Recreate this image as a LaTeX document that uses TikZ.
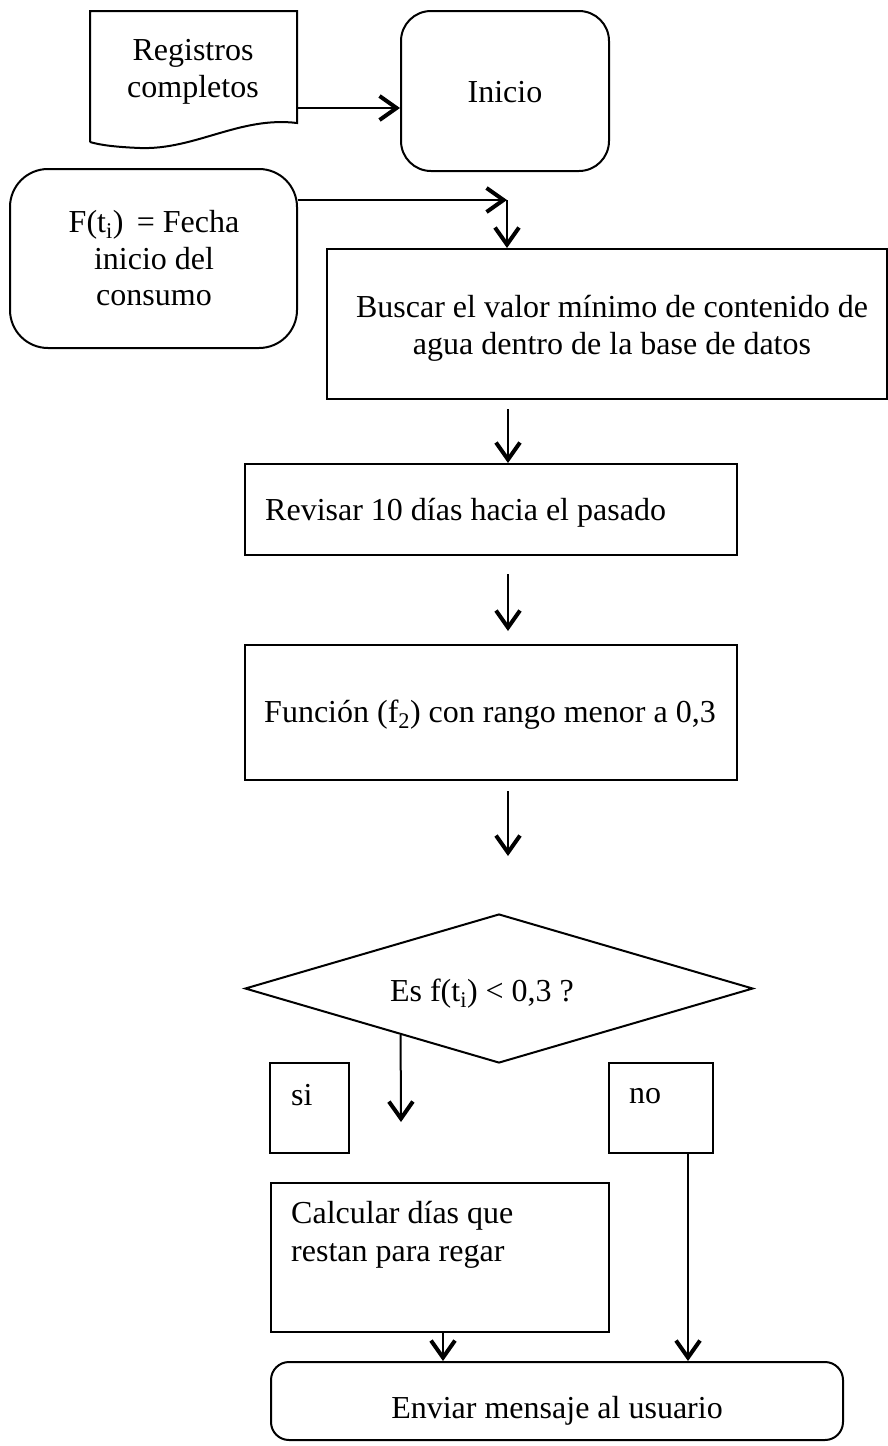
\documentclass[tikz,border=0pt]{standalone}
\usepackage{fontspec}
\setmainfont{Liberation Serif}
\usetikzlibrary{arrows.meta,shapes.geometric,calc}
\begin{document}
\begin{tikzpicture}[x=1pt,y=-1pt,
  txt/.style={inner sep=0pt,font=\fontsize{32}{38}\selectfont},
  box/.style={draw,line width=2pt,inner sep=0pt,rectangle},
  arr/.style={line width=2pt,-{Straight Barb[length=17pt,width=24pt,line width=4pt]}},
]
\useasboundingbox (0,0) rectangle (888,1446);

% document shape
\node[inner sep=0pt,minimum width=207pt,minimum height=131pt] (doc) at (193.5,76.5) {};
\draw[line width=2pt,line join=miter] (90,142) -- (90,11) -- (297,11) -- (297,123)
  .. controls (240,116) and (195,150) .. (140,148)
  .. controls (115,147) and (100,145) .. (90,142);
\node[txt,anchor=base] (t1a) at (193,60) {Registros};
\node[txt,anchor=base] (t1b) at (193,97) {completos};

% Inicio
\node[box,rounded corners=30pt,minimum width=208pt,minimum height=160pt] (inicio) at (505,91) {};
\node[txt,anchor=base] (t2) at (505,102) {Inicio};

% F(ti)
\node[box,rounded corners=38pt,minimum width=287pt,minimum height=179pt] (fbox) at (153.5,258.5) {};
\node[txt,anchor=base] (t3a) at (154,232) {F(t\textsubscript{i})\, = Fecha};
\node[txt,anchor=base] (t3b) at (154,269) {inicio del};
\node[txt,anchor=base] (t3c) at (154,305) {consumo};

% Buscar
\node[box,minimum width=560pt,minimum height=150pt] (buscar) at (607,324) {};
\node[txt,anchor=base] (t4a) at (612,317) {Buscar el valor mínimo de contenido de};
\node[txt,anchor=base] (t4b) at (612,354) {agua dentro de la base de datos};

% Revisar
\node[box,minimum width=492pt,minimum height=91pt] (revisar) at (491,509.5) {};
\node[txt,anchor=base west] (t5) at (265,520) {Revisar 10 días hacia el pasado};

% Funcion
\node[box,minimum width=492pt,minimum height=135pt] (funcion) at (491,712.5) {};
\node[txt,anchor=base] (t6) at (490,722) {Función (f\textsubscript{2}) con rango menor a 0,3};

% Decision
\node[draw,diamond,line width=2pt,inner sep=0pt,minimum width=508pt,minimum height=149pt] (dec) at (499,988.5) {};
\node[txt,anchor=base] (t7) at (482,1001) {Es f(t\textsubscript{i}) < 0,3 ?};

% si / no
\node[box,minimum width=79pt,minimum height=90pt] (sibox) at (309.5,1108) {};
\node[txt,anchor=base west] (t8) at (291,1105) {si};
\node[box,minimum width=104pt,minimum height=90pt] (nobox) at (661,1108) {};
\node[txt,anchor=base west] (t9) at (629,1103) {no};

% Calcular
\node[box,minimum width=338pt,minimum height=149pt] (calc) at (440,1257.5) {};
\node[txt,anchor=base west] (t10a) at (291,1223) {Calcular días que};
\node[txt,anchor=base west] (t10b) at (291,1261) {restan para regar};

% Enviar
\node[box,rounded corners=18pt,minimum width=572pt,minimum height=78pt] (enviar) at (557,1401) {};
\node[txt,anchor=base] (t11) at (557,1418) {Enviar mensaje al usuario};

% connectors
\draw[arr] (doc.east |- 0,108) -- (inicio.west |- 0,108);
\coordinate (jn) at (507,200);
\draw[arr] (fbox.east |- jn) -- (jn);
\draw[arr,line width=1.5pt] (jn) -- (jn |- buscar.north);
\draw[arr] ($(buscar.south)+(-99,9)$) -- ($(revisar.north)+(17,0)$);
\draw[arr] ($(revisar.south)+(17,18)$) -- ($(funcion.north)+(17,-13)$);
\draw[arr] ($(funcion.south)+(17,10)$) -- ($(dec.north)+(9,-57)$);
\coordinate (siend) at (401,1122);
\draw[arr] ($(dec.west)!0.614!(dec.south)$) -- (siend);
\draw[arr] ($(calc.south)+(3,0)$) -- ($(enviar.north)+(-114,0)$);
\draw[arr] ($(nobox.south)+(27,0)$) -- ($(enviar.north)+(131,0)$);
\end{tikzpicture}
\end{document}
